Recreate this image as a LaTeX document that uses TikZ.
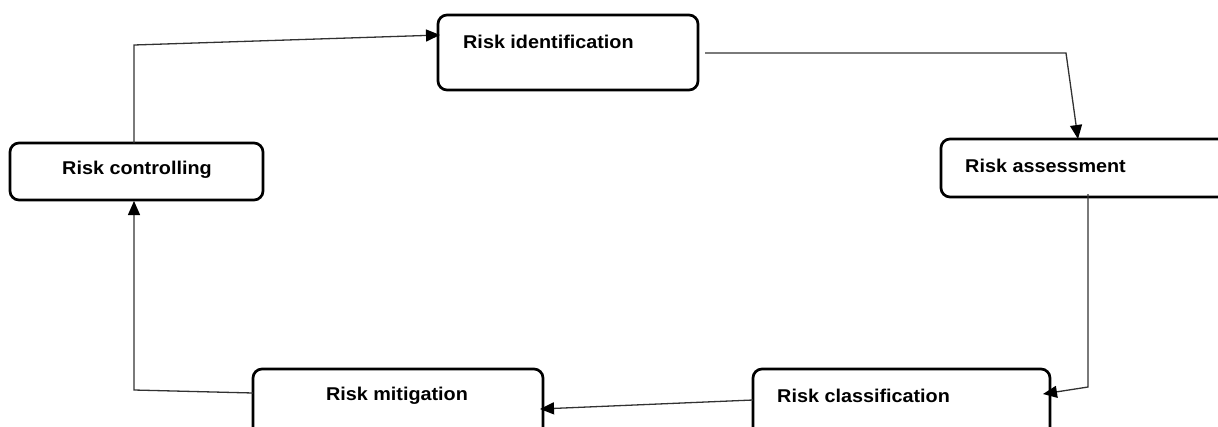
\documentclass[tikz,border=0pt]{standalone}
\usepackage{fontspec}
\setmainfont{Liberation Sans}[FakeStretch=1.07]
\usetikzlibrary{arrows.meta}
\begin{document}
\begin{tikzpicture}[x=1pt,y=-1pt,
  box/.style={draw=black,line width=2.7pt,rounded corners=9pt,fill=white,inner sep=0pt},
  lbl/.style={inner sep=0pt,font=\fontsize{18.5}{22}\selectfont\bfseries,text=black},
  conn/.style={draw={rgb,255:red,50;green,50;blue,50},line width=1.3pt},
  arr/.style={conn,-{Triangle[length=14pt,width=12pt,color=black,fill=black]}}]
\useasboundingbox (0,0) rectangle (1218,426);
% boxes
\node[box,minimum width=260pt,minimum height=75pt] (id) at (568,52.5) {};
\node[box,minimum width=299pt,minimum height=58pt] (as) at (1090.5,168) {};
\node[box,minimum width=297pt,minimum height=71pt] (cl) at (901.5,404.5) {};
\node[box,minimum width=290pt,minimum height=71pt] (mi) at (398,404.5) {};
\node[box,minimum width=253pt,minimum height=57pt] (co) at (136.5,171.5) {};
% texts
\node[lbl,anchor=base west] (t1) at (463,48) {Risk identification};
\node[lbl,anchor=base west] (t2) at (965,172) {Risk assessment};
\node[lbl,anchor=base west] (t3) at (777,402) {Risk classification};
\node[lbl,anchor=base] (t4) at (397,400) {Risk mitigation};
\node[lbl,anchor=base] (t5) at (137,174) {Risk controlling};
% bend coordinates
\coordinate (s1) at (705,53);
\coordinate (b1) at (1066,53);
\coordinate (b1t) at (1078,139);
\coordinate (s2) at (1088,194);
\coordinate (b2) at (1088,387);
\coordinate (b2t) at (1043,394);
\coordinate (s3) at (753,400);
\coordinate (b3t) at (540,409);
\coordinate (s4) at (253,393);
\coordinate (b3) at (134,390);
\coordinate (b3e) at (134,201);
\coordinate (s5) at (134,143);
\coordinate (b4) at (134,45);
\coordinate (b4t) at (440,35);
% connectors
\draw[arr] (s1) -- (b1) -- (b1t);
\draw[arr] (s2) -- (b2) -- (b2t);
\draw[arr] (s3) -- (b3t);
\draw[arr] (s4) -- (b3) -- (b3e);
\draw[arr] (s5) -- (b4) -- (b4t);
\end{tikzpicture}
\end{document}
